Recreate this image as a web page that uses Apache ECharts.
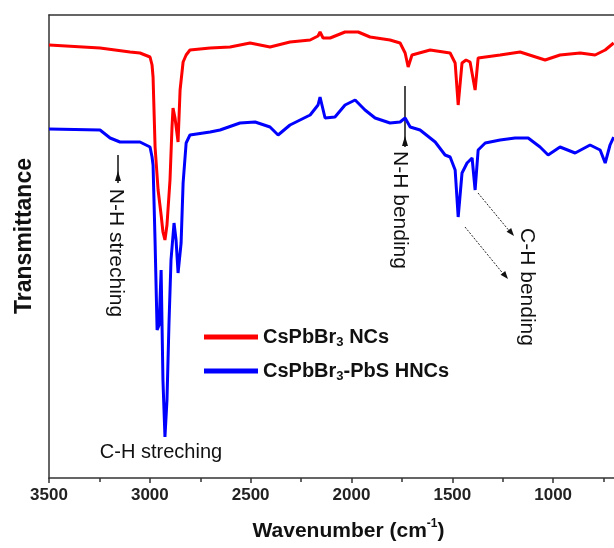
<!DOCTYPE html>
<html>
<head>
<meta charset="utf-8">
<script src="https://cdn.jsdelivr.net/npm/echarts@6/dist/echarts.min.js"></script>
<style>html,body{margin:0;padding:0;background:#fff;}#c{width:614px;height:548px;}</style>
</head>
<body>
<div id="c"></div>
<script>
// Wavenumber (cm-1) and transmittance (a.u.)
const redWavenumber = [3500,3247,3098,3049,2999,2989,2984,2974,2959,2944,2935,2925,2915,2900,2890,2885,2875,2860,2850,2835,2820,2801,2701,2602,2503,2404,2305,2205,2166,2156,2141,2106,2032,1967,1908,1809,1759,1734,1719,1700,1610,1511,1486,1471,1452,1432,1412,1387,1372,1263,1164,1040,966,866,792,742,700];
const redValues = [433,430,426,425,421,413,401,331,288,263,246,238,253,298,351,370,360,336,388,416,423,428,430,431,435,431,436,438,442,446,440,440,446,446,441,438,435,425,411,423,428,425,415,373,415,418,416,388,420,423,426,418,423,425,423,428,435];
const blueWavenumber = [3500,3247,3197,3148,3049,2999,2989,2984,2974,2964,2954,2944,2935,2925,2915,2905,2895,2880,2870,2860,2845,2835,2820,2801,2701,2652,2553,2478,2404,2364,2305,2205,2166,2156,2131,2082,2032,1982,1933,1883,1809,1759,1734,1709,1660,1585,1536,1511,1486,1471,1452,1427,1402,1387,1372,1337,1263,1189,1124,1065,1025,966,891,817,767,742,718,700];
const blueValues = [349,348,340,336,336,331,321,313,236,148,153,208,98,41,78,155,218,255,238,205,235,295,335,343,346,348,355,356,351,343,353,363,373,381,360,361,373,378,368,360,355,356,360,351,348,336,323,321,308,261,305,315,320,288,328,335,338,340,340,331,323,331,325,333,328,315,333,341];
const seriesNames = ['CsPbBr3 NCs', 'CsPbBr3-PbS HNCs'];
const xTicks = [3500, 3000, 2500, 2000, 1500, 1000, 500];

const FONT = "'Liberation Sans', Arial, sans-serif";
const zip = (a, b) => a.map((v, i) => [v, b[i]]);

function arrowHead(x1, y1, x2, y2, len, w) {
  const dx = x2 - x1, dy = y2 - y1, L = Math.hypot(dx, dy);
  const ux = dx / L, uy = dy / L;
  const bx = x2 - ux * len, by = y2 - uy * len;
  return [[x2, y2], [bx - uy * w, by + ux * w], [bx + uy * w, by - ux * w]];
}

const chart = echarts.init(document.getElementById('c'));
const legendRich = {
  a: { fontFamily: FONT, fontWeight: 'bold', fontSize: 20, color: '#111', lineHeight: 24 },
  s: { fontFamily: FONT, fontWeight: 'bold', fontSize: 13, color: '#111', verticalAlign: 'bottom', lineHeight: 18 }
};
chart.setOption({
  animation: false,
  grid: { left: 49, top: 15, width: 605, height: 463, containLabel: false, outerBoundsMode: 'none' },
  xAxis: [{
    type: 'value', min: 500, max: 3500, interval: 500, inverse: true,
    axisLine: { show: true, lineStyle: { color: '#333', width: 1.5 } },
    axisTick: { show: true, length: 5, lineStyle: { color: '#333', width: 1.5 } },
    minorTick: { show: true, splitNumber: 2, length: 4, lineStyle: { color: '#333', width: 1.5 } },
    splitLine: { show: false },
    axisLabel: {
      margin: 9, fontFamily: FONT, fontWeight: 'bold', fontSize: 17, color: '#222',
      formatter: v => xTicks.includes(v) ? String(v) : ''
    },
    name: '{a|Wavenumber (cm}{sup|-1}{a|)}',
    nameLocation: 'middle', nameGap: 40,
    nameTextStyle: {
      padding: [0, 6, 0, 0],
      rich: {
        a: { fontFamily: FONT, fontWeight: 'bold', fontSize: 21, color: '#111', lineHeight: 26 },
        sup: { fontFamily: FONT, fontWeight: 'bold', fontSize: 12, color: '#111', verticalAlign: 'top', lineHeight: 14 }
      }
    }
  }, {
    type: 'value', position: 'top', min: 500, max: 3500, inverse: true,
    axisLine: { show: true, lineStyle: { color: '#333', width: 1.5 } },
    axisTick: { show: false }, axisLabel: { show: false }, splitLine: { show: false }
  }],
  yAxis: {
    type: 'value', min: 0, max: 463,
    axisLine: { show: true, lineStyle: { color: '#333', width: 1.5 } },
    axisTick: { show: false }, axisLabel: { show: false }, splitLine: { show: false }
  },
  legend: {
    orient: 'vertical', left: 204, top: 327, padding: 0, itemWidth: 54, itemHeight: 5, itemGap: 12,
    icon: 'rect',
    data: seriesNames,
    formatter: n => n === seriesNames[0] ? '{a|CsPbBr}{s|3}{a| NCs}' : '{a|CsPbBr}{s|3}{a|-PbS HNCs}',
    textStyle: { rich: legendRich }
  },
  series: [
    { name: seriesNames[0], type: 'line', data: zip(redWavenumber, redValues), showSymbol: false,
      lineStyle: { color: '#ff0000', width: 3 }, itemStyle: { color: '#ff0000' }, z: 3 },
    { name: seriesNames[1], type: 'line', data: zip(blueWavenumber, blueValues), showSymbol: false,
      lineStyle: { color: '#0000ff', width: 3 }, itemStyle: { color: '#0000ff' }, z: 2 }
  ],
  graphic: [
    { type: 'text', x: 25, y: 236, rotation: Math.PI / 2,
      style: { text: 'Transmittance', font: "bold 23px " + FONT, fill: '#111', align: 'center', verticalAlign: 'middle' } },
    { type: 'text', x: 116, y: 253, rotation: -Math.PI / 2,
      style: { text: 'N-H streching', font: "21px " + FONT, fill: '#111', align: 'center', verticalAlign: 'middle' } },
    { type: 'text', x: 400, y: 210, rotation: -Math.PI / 2,
      style: { text: 'N-H bending', font: "21px " + FONT, fill: '#111', align: 'center', verticalAlign: 'middle' } },
    { type: 'text', x: 527, y: 287, rotation: -Math.PI / 2,
      style: { text: 'C-H bending', font: "21px " + FONT, fill: '#111', align: 'center', verticalAlign: 'middle' } },
    { type: 'text', x: 161, y: 452,
      style: { text: 'C-H streching', font: "20px " + FONT, fill: '#111', align: 'center', verticalAlign: 'middle' } },
    { type: 'line', shape: { x1: 118, y1: 155, x2: 118, y2: 183 }, style: { stroke: '#111', lineWidth: 1.5 } },
    { type: 'polygon', shape: { points: [[118, 171], [115, 181], [121, 181]] }, style: { fill: '#111' } },
    { type: 'line', shape: { x1: 405, y1: 86, x2: 405, y2: 147 }, style: { stroke: '#111', lineWidth: 1.5 } },
    { type: 'polygon', shape: { points: [[405, 136], [402, 146], [408, 146]] }, style: { fill: '#111' } },
    { type: 'line', shape: { x1: 478, y1: 193, x2: 511, y2: 233 }, style: { stroke: '#222', lineWidth: 1, lineDash: [2, 1.5] } },
    { type: 'polygon', shape: { points: arrowHead(478, 193, 514, 236, 8, 3) }, style: { fill: '#111' } },
    { type: 'line', shape: { x1: 465, y1: 227, x2: 505, y2: 276 }, style: { stroke: '#222', lineWidth: 1, lineDash: [2, 1.5] } },
    { type: 'polygon', shape: { points: arrowHead(465, 227, 508, 279, 8, 3) }, style: { fill: '#111' } }
  ]
});
</script>
</body>
</html>
